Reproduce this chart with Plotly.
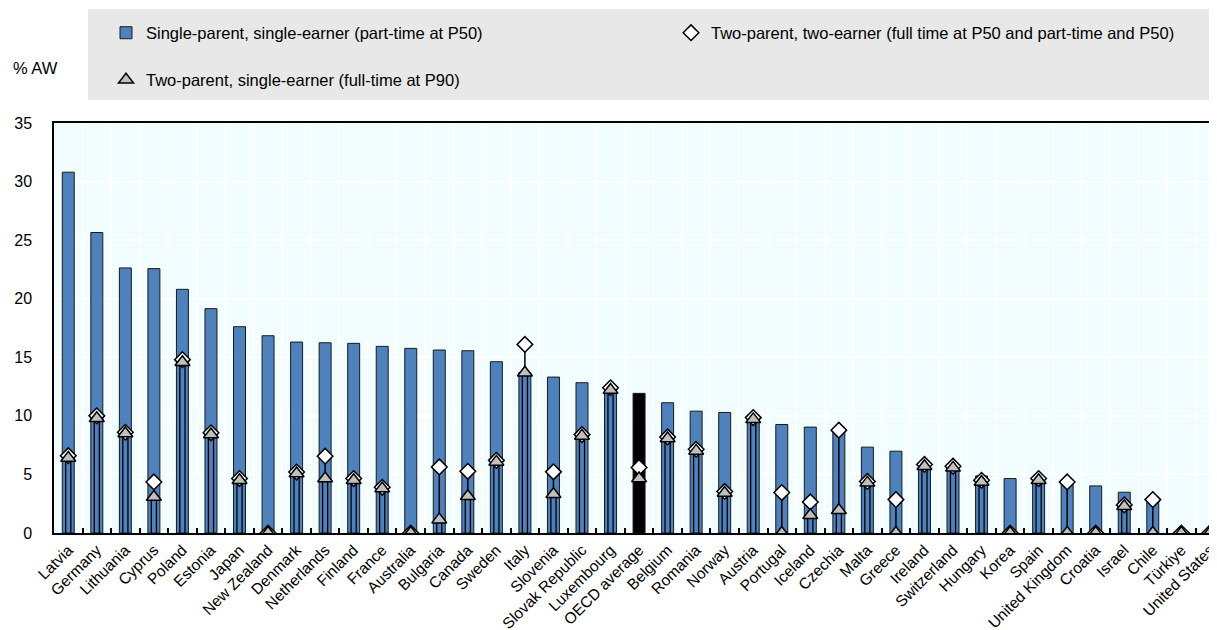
import plotly.graph_objects as go

countries = ["Latvia", "Germany", "Lithuania", "Cyprus", "Poland", "Estonia", "Japan",
             "New Zealand", "Denmark", "Netherlands", "Finland", "France", "Australia",
             "Bulgaria", "Canada", "Sweden", "Italy", "Slovenia", "Slovak Republic",
             "Luxembourg", "OECD average", "Belgium", "Romania", "Norway", "Austria",
             "Portugal", "Iceland", "Czechia", "Malta", "Greece", "Ireland", "Switzerland",
             "Hungary", "Korea", "Spain", "United Kingdom", "Croatia", "Israel", "Chile",
             "Türkiye", "United States"]

single_parent_pt = [30.8, 25.65, 22.63, 22.57, 20.8, 19.15, 17.61, 16.84, 16.3, 16.24, 16.19,
                    15.93, 15.76, 15.62, 15.56, 14.62, 13.7, 13.31, 12.83, 12.2, 11.92, 11.12,
                    10.4, 10.29, 9.6, 9.26, 9.04, 8.6, 7.33, 6.98, 5.7, 5.6, 4.87, 4.65, 4.5,
                    4.3, 4.02, 3.48, 2.8, 0.0, 0.0]

two_parent_two_earner = [6.6, 10.0, 8.6, 4.36, 14.8, 8.55, 4.65, 0.0, 5.2, 6.56, 4.65, 3.9, 0.0,
                         5.64, 5.27, 6.2, 16.1, 5.22, 8.4, 12.4, 5.59, 8.2, 7.15, 3.55, 9.85,
                         3.45, 2.65, 8.78, 4.4, 2.85, 5.85, 5.7, 4.5, 0.0, 4.65, 4.36, 0.0, 2.4,
                         2.85, 0.0, 0.0]

two_parent_p90 = [6.4, 9.8, 8.5, 3.08, 14.57, 8.41, 4.5, 0.0, 5.08, 4.65, 4.5, 3.79, 0.0, 1.14,
                  3.14, 6.07, 13.68, 3.31, 8.29, 12.2, 4.65, 8.07, 7.01, 3.42, 9.7, 0.0, 1.51,
                  1.94, 4.28, 0.0, 5.7, 5.56, 4.36, 0.0, 4.5, 0.0, 0.0, 2.28, 0.0, 0.0, 0.0]

y_ticks = [0, 5, 10, 15, 20, 25, 30, 35]

FONT = "Liberation Sans, Arial, sans-serif"
BLUE = "#4F81BD"

idx = list(range(len(countries)))
bar_colors = ["#000000" if c == "OECD average" else BLUE for c in countries]

fig = go.Figure()

fig.add_trace(go.Bar(
    x=idx, y=single_parent_pt, width=0.42,
    marker=dict(color=bar_colors, line=dict(color="#1a1a1a", width=1)),
    name="Single-parent, single-earner (part-time at P50)",
    legend="legend", hoverinfo="x+y",
))

# double stem from 0 up to the triangle
for off in (-0.09, 0.09):
    xs, ys = [], []
    for i, v in zip(idx, two_parent_p90):
        if v > 0:
            xs += [i + off, i + off, None]
            ys += [0, v, None]
    fig.add_trace(go.Scatter(x=xs, y=ys, mode="lines", line=dict(color="black", width=1.3),
                             showlegend=False, hoverinfo="skip"))

# single stem from the triangle up to the diamond
xs, ys = [], []
for i, t, d in zip(idx, two_parent_p90, two_parent_two_earner):
    if d > t:
        xs += [i, i, None]
        ys += [t, d, None]
fig.add_trace(go.Scatter(x=xs, y=ys, mode="lines", line=dict(color="black", width=1.5),
                         showlegend=False, hoverinfo="skip"))

fig.add_trace(go.Scatter(
    x=idx, y=two_parent_two_earner, mode="markers",
    marker=dict(symbol="diamond", size=12, color="white", line=dict(color="black", width=1.5)),
    name="Two-parent, two-earner (full time at P50 and part-time and P50)",
    legend="legend3",
))
fig.add_trace(go.Scatter(
    x=idx, y=two_parent_p90, mode="markers",
    marker=dict(symbol="triangle-up", size=13, color="#C0C0C0", line=dict(color="black", width=1.5)),
    name="Two-parent, single-earner (full-time at P90)",
    legend="legend2",
))

# page offset (browser body margin) compensation
OFF = 8
W, H = 1217 - OFF, 630 - OFF
L, R, T = 54 - OFF, 0, 123 - OFF
B = H - (533 - OFF)
pw, ph = W - L - R, H - T - B

def px_x(p):
    return (p - OFF - L) / pw

def px_y(p):
    return (H - B - (p - OFF)) / ph

fig.add_shape(type="rect", xref="paper", yref="paper",
              x0=px_x(88), x1=1.0, y0=px_y(100), y1=px_y(9),
              fillcolor="#E8E8E8", line=dict(width=0), layer="below")

fig.add_annotation(text="% AW", xref="paper", yref="paper", x=px_x(11), y=px_y(68),
                   xanchor="left", yanchor="middle", showarrow=False,
                   font=dict(family=FONT, size=16.5, color="black"))

boundaries = [i + 0.5 for i in idx[:-1]]

leg_common = dict(orientation="h", xanchor="left", yanchor="middle",
                  bgcolor="rgba(0,0,0,0)", font=dict(family=FONT, size=16.5, color="black"))

fig.update_layout(
    width=W, height=H,
    margin=dict(l=L, r=R, t=T, b=B, autoexpand=False),
    paper_bgcolor="white",
    plot_bgcolor="#F1FDFF",
    barmode="overlay",
    font=dict(family=FONT, size=16, color="black"),
    legend=dict(x=px_x(106), y=px_y(33), **leg_common),
    legend3=dict(x=px_x(671), y=px_y(33), **leg_common),
    legend2=dict(x=px_x(106), y=px_y(80), **leg_common),
    xaxis=dict(
        range=[-0.5, 40.25], tickmode="array", tickvals=idx, ticktext=countries,
        tickangle=-45, ticks="", showgrid=False, zeroline=False, automargin=False,
        ticklabeloverflow="allow",
        showline=True, linecolor="black", linewidth=2, mirror=True,
        tickfont=dict(family=FONT, size=15.5, color="black"),
        minor=dict(tickmode="array", tickvals=boundaries, ticks="inside", ticklen=5,
                   tickcolor="black", tickwidth=1.5, showgrid=True, gridcolor="white",
                   gridwidth=1.5),
    ),
    yaxis=dict(
        range=[0, 35], tickmode="array", tickvals=y_ticks, ticks="", automargin=False,
        showgrid=True, gridcolor="white", gridwidth=1.5, zeroline=False,
        showline=True, linecolor="black", linewidth=1.5,
        ticklabelstandoff=17,
        tickfont=dict(family=FONT, size=16, color="black"),
    ),
)

fig.write_html("out.html")
